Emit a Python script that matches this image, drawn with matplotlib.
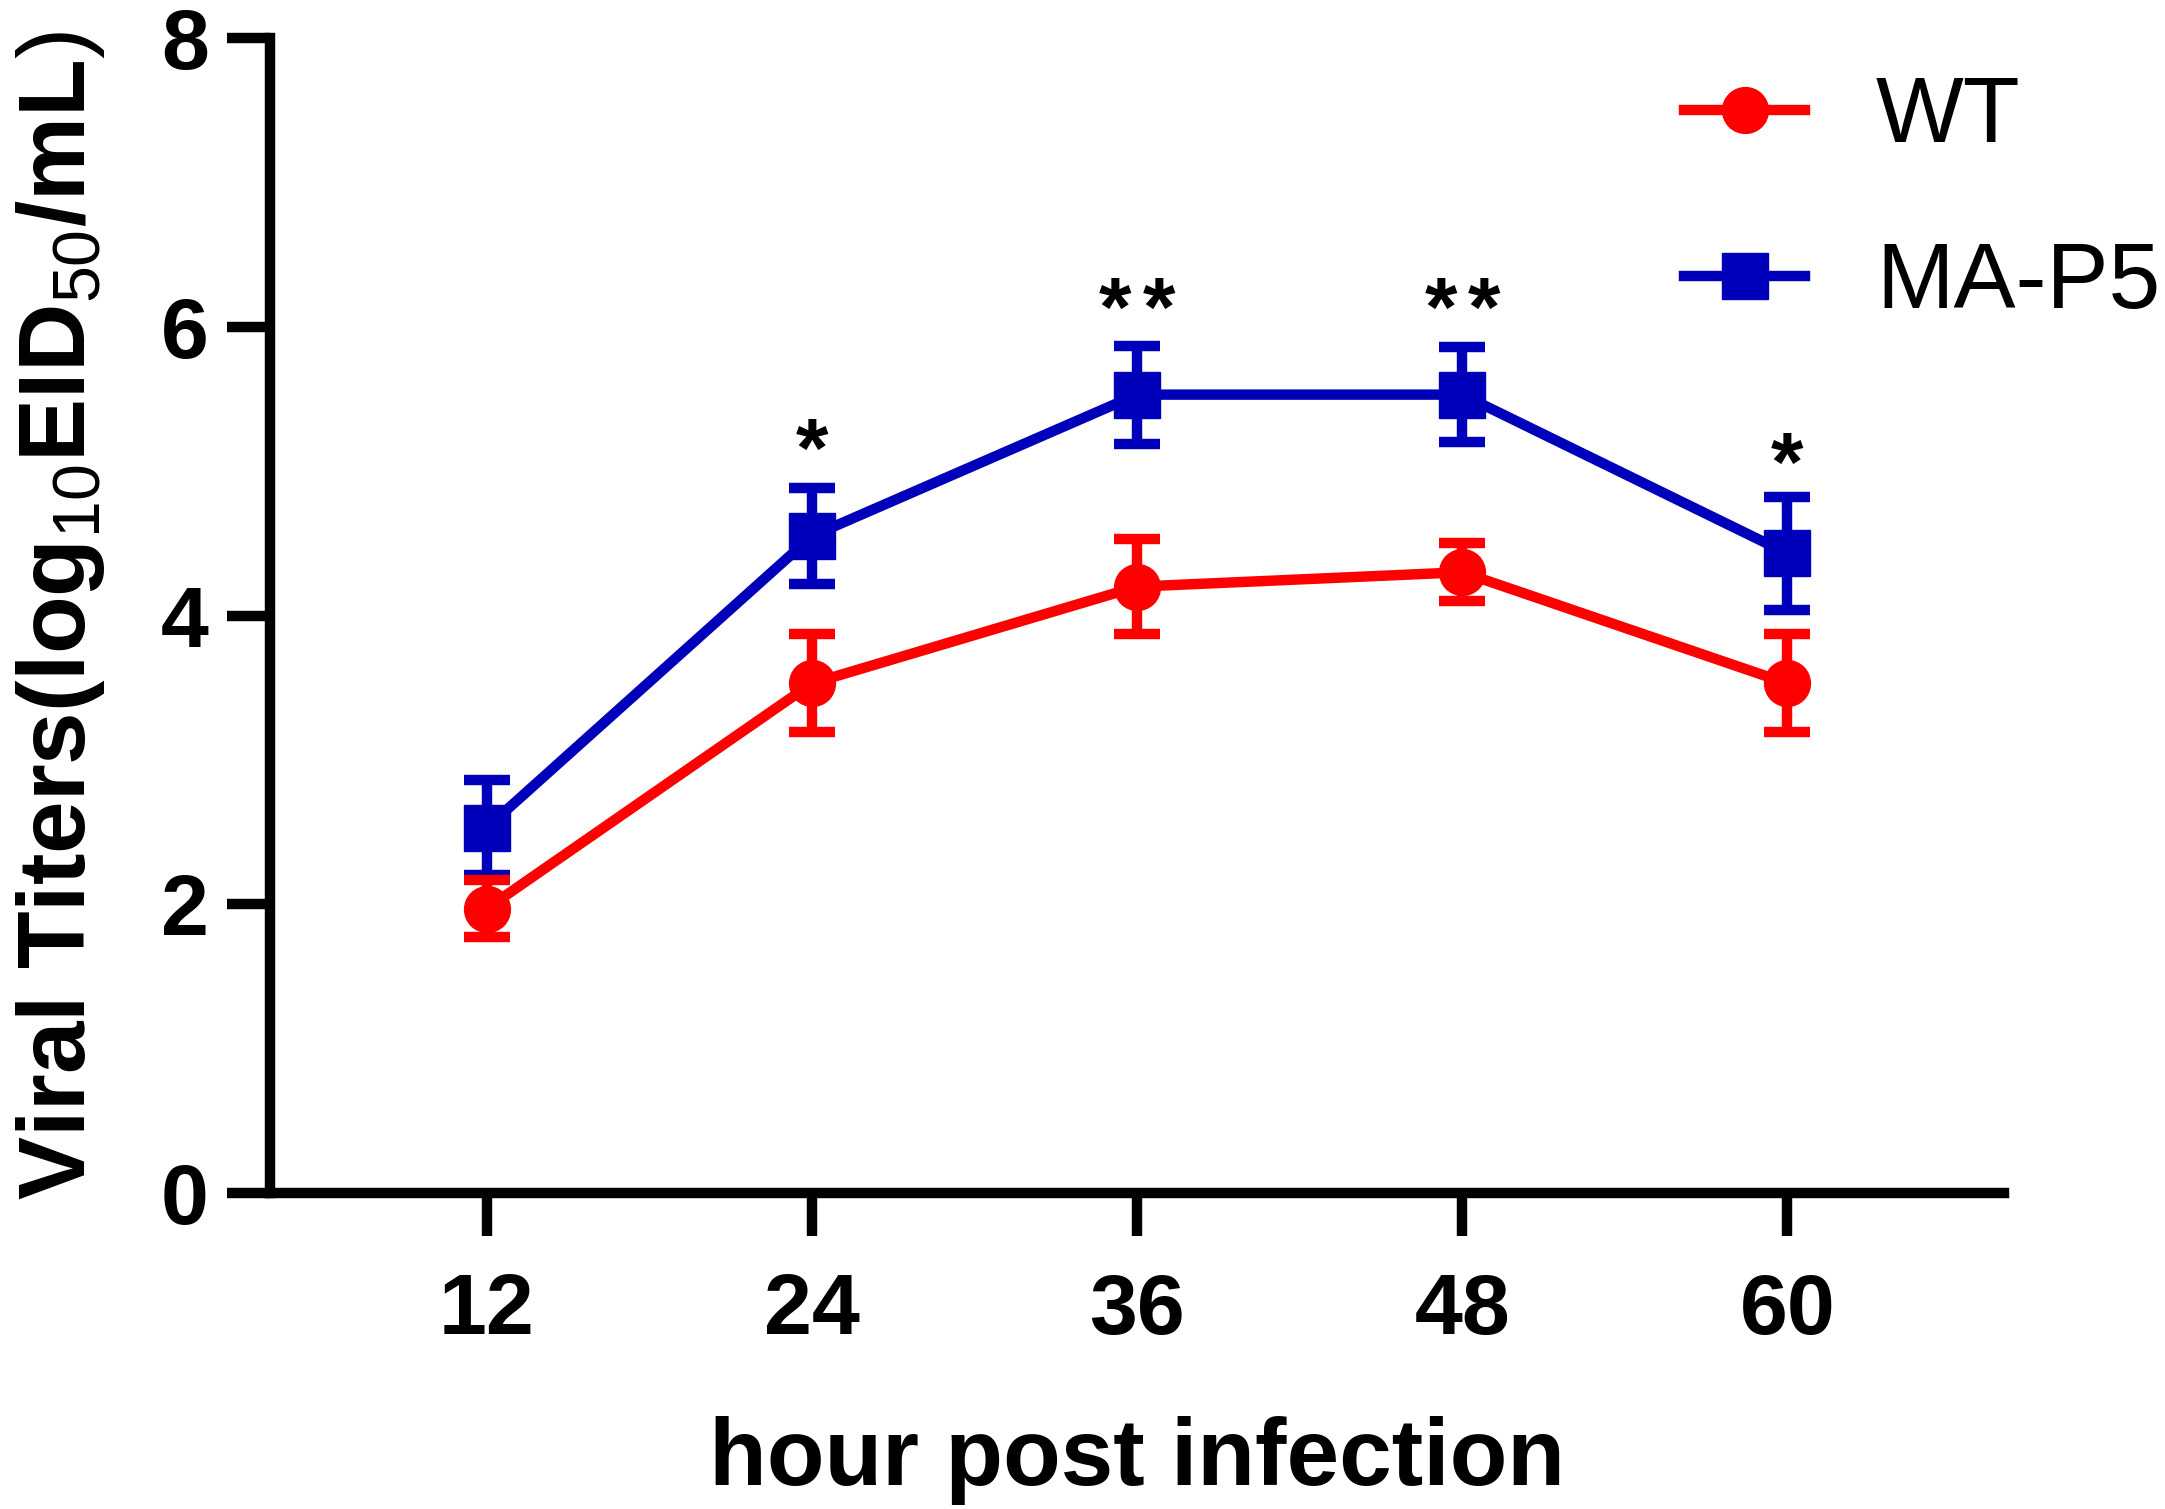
import matplotlib
matplotlib.use("Agg")
import matplotlib.pyplot as plt

plt.rcParams['font.family'] = ['Liberation Sans', 'DejaVu Sans']
plt.rcParams['mathtext.fontset'] = 'custom'
plt.rcParams['mathtext.rm'] = 'Liberation Sans'
plt.rcParams['mathtext.bf'] = 'Liberation Sans:bold'

# data
hours = [12, 24, 36, 48, 60]
wt_mean = [1.97, 3.53, 4.20, 4.30, 3.53]
wt_err = [0.20, 0.34, 0.33, 0.20, 0.34]
ma_mean = [2.53, 4.55, 5.53, 5.53, 4.43]
ma_err = [0.33, 0.33, 0.34, 0.33, 0.39]
star_hours = [24, 36, 48, 60]
star_text = ["*", "**", "**", "*"]
star_y = [5.24, 6.22, 6.22, 5.14]

red = "#FF0000"
blue = "#0000BB"
lw = 7.5

fig = plt.figure(figsize=(21.65, 15.09), dpi=100)
ax = fig.add_axes([0.1247, 0.2094, 0.801, 0.7654])

ax.errorbar(hours, wt_mean, yerr=wt_err, color=red, lw=lw, marker="o", ms=33,
            elinewidth=lw, capsize=16.5, capthick=lw, zorder=3)
ax.errorbar(hours, ma_mean, yerr=ma_err, color=blue, lw=lw, marker="s", ms=33,
            elinewidth=lw, capsize=16.5, capthick=lw, zorder=2)

# significance marks
for h, s, y in zip(star_hours, star_text, star_y):
    n = len(s)
    for k in range(n):
        dx = (k - (n - 1) / 2) * 1.6
        ax.text(h + dx, y - 0.28, "*", ha="center", va="baseline",
                fontsize=60, fontweight="bold")

ax.set_xlim(4, 68)
ax.set_ylim(0, 8)
ax.set_xticks(hours)
ax.set_yticks([0, 2, 4, 6, 8])

for side in ["top", "right"]:
    ax.spines[side].set_visible(False)
for side in ["left", "bottom"]:
    ax.spines[side].set_linewidth(7.5)
ax.tick_params(width=7.5, length=31, labelsize=62)
ax.tick_params(axis="x", pad=26)
ax.tick_params(axis="y", pad=13)
for lab in ax.get_xticklabels() + ax.get_yticklabels():
    lab.set_fontweight("bold")

ax.set_xlabel("hour post infection", fontsize=68, fontweight="bold")
ax.set_ylabel(r"Viral Titers(log$_{\mathrm{10}}$EID$_{\mathrm{50}}$/mL$\mathrm{)}$",
              fontsize=68, fontweight="bold")
ax.xaxis.set_label_coords(0.5, -0.193)
ax.yaxis.set_label_coords(-0.094, 0.5)

h1, = ax.plot([], [], color=red, lw=lw, marker="o", ms=33)
h2, = ax.plot([], [], color=blue, lw=lw, marker="s", ms=33)
fig.legend([h1, h2], ["WT", "MA-P5"], loc="upper left",
           bbox_to_anchor=(0.778, 0.950), frameon=False, fontsize=67,
           handlelength=1.3, handletextpad=0.76, labelspacing=0.86,
           borderpad=0, borderaxespad=0)

fig.savefig("out.png", dpi=100)
